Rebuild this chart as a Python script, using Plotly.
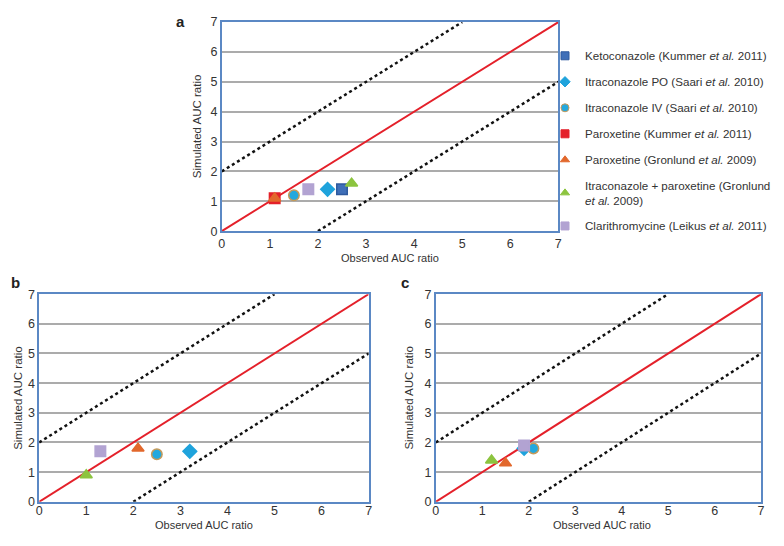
import plotly.graph_objects as go

# ---- data ----
series_names = [
    "Ketoconazole (Kummer <i>et al.</i> 2011)",
    "Itraconazole PO (Saari <i>et al.</i> 2010)",
    "Itraconazole IV (Saari <i>et al.</i> 2010)",
    "Paroxetine (Kummer <i>et al.</i> 2011)",
    "Paroxetine (Gronlund <i>et al.</i> 2009)",
    "Itraconazole + paroxetine (Gronlund<br><i>et al.</i> 2009)",
    "Clarithromycine (Leikus <i>et al.</i> 2011)",
]
series_symbols = ["square", "diamond", "circle", "square", "triangle-up", "triangle-up", "square"]
series_colors = ["#3F6FB8", "#1FA3DC", "#23A8DE", "#E4202A", "#E2682C", "#8CC43F", "#B2A3D2"]
series_lines = ["#2F5A9E", "#1FA3DC", "#C59A5A", "#E4202A", "#E2682C", "#8CC43F", "#B2A3D2"]

# panel a (observed, simulated); None = absent
obs_a = [2.5, 2.2, 1.5, 1.1, 1.1, 2.7, 1.8]
sim_a = [1.4, 1.4, 1.2, 1.1, 1.1, 1.6, 1.4]
# panel b
obs_b = [None, 3.2, 2.5, None, 2.1, 1.0, 1.3]
sim_b = [None, 1.7, 1.6, None, 1.8, 0.9, 1.7]
# panel c
obs_c = [None, 1.9, 2.1, None, 1.5, 1.2, 1.9]
sim_c = [None, 1.8, 1.8, None, 1.3, 1.4, 1.9]

unity_x = [0, 7]
unity_y = [0, 7]
upper_x = [0, 5]
upper_y = [2, 7]
lower_x = [2, 7]
lower_y = [0, 5]

tick_vals = [0, 1, 2, 3, 4, 5, 6, 7]
tick_text = ["0", "1", "2", "3", "4", "5", "6", "7"]

# page is 784x546 with the default 8px body margin around the figure
MARGIN = 8
W, H = 784 - 2 * MARGIN, 546 - 2 * MARGIN

fig = go.Figure()

panels = [("", obs_a, sim_a), ("2", obs_b, sim_b), ("3", obs_c, sim_c)]

for suf, obs, sim in panels:
    xa = "x" + suf
    ya = "y" + suf
    fig.add_trace(go.Scatter(x=upper_x, y=upper_y, mode="lines", xaxis=xa, yaxis=ya,
                             line=dict(color="#111111", width=2.5, dash="dot"),
                             showlegend=False, hoverinfo="skip"))
    fig.add_trace(go.Scatter(x=lower_x, y=lower_y, mode="lines", xaxis=xa, yaxis=ya,
                             line=dict(color="#111111", width=2.5, dash="dot"),
                             showlegend=False, hoverinfo="skip"))
    fig.add_trace(go.Scatter(x=unity_x, y=unity_y, mode="lines", xaxis=xa, yaxis=ya,
                             line=dict(color="#E4202A", width=2),
                             showlegend=False, hoverinfo="skip"))
    for i, name in enumerate(series_names):
        if obs[i] is None:
            continue
        fig.add_trace(go.Scatter(
            x=[obs[i]], y=[sim[i]], mode="markers", xaxis=xa, yaxis=ya,
            name=name, legendgroup="g%d" % i, showlegend=False,
            marker=dict(symbol=series_symbols[i], size=10.5, color=series_colors[i],
                        line=dict(color=series_lines[i], width=1.5)),
        ))

# legend entries (no data drawn, smaller symbols as in the original key)
for i, name in enumerate(series_names):
    fig.add_trace(go.Scatter(
        x=[None], y=[None], mode="markers", name=name, legendgroup="g%d" % i,
        showlegend=True,
        marker=dict(symbol=series_symbols[i], size=8, color=series_colors[i],
                    line=dict(color=series_lines[i], width=1)),
    ))


def px_x(p, lo=0, hi=W):
    return min(max(p - MARGIN, lo), hi) / W


def px_y(p, lo=0, hi=H):
    return 1 - min(max(p - MARGIN, lo), hi) / H


axis_common = dict(range=[0, 7], tickvals=tick_vals, ticktext=tick_text,
                   showline=True, mirror=True, linecolor="#5B88C4", linewidth=1.5,
                   zeroline=False, ticks="", tickfont=dict(size=12.5, color="#333333"),
                   fixedrange=True)

domains = {
    "": ((222.7, 565.5), (15.3, 230)),
    "2": ((36.7, 372.3), (294.7, 508)),
    "3": ((440.7, 778.3), (294.7, 508)),
}

layout_axes = {}
for suf, ((x0, x1), (y0, y1)) in domains.items():
    layout_axes["xaxis" + suf] = dict(axis_common, domain=[px_x(x0), px_x(x1, hi=W - 4)],
                                      anchor="y" + suf, showgrid=False,
                                      ticklabelstandoff=(0 if suf == "" else -4))
    layout_axes["yaxis" + suf] = dict(axis_common, domain=[px_y(y1), px_y(y0)],
                                      anchor="x" + suf, showgrid=True,
                                      gridcolor="#ABABAB", gridwidth=1.5)

font_family = "Liberation Sans, Arial, Helvetica, sans-serif"

annotations = []
for cx, cy in [((222.7 + 565.5) / 2, 258), ((36.7 + 372.3) / 2, 539), ((440.7 + 778.3) / 2, 539)]:
    annotations.append(dict(text="Observed AUC ratio", x=px_x(cx), y=px_y(cy, hi=H - 6), xref="paper", yref="paper",
                            showarrow=False, xanchor="center", yanchor="middle", borderpad=0,
                            font=dict(size=11, color="#333333")))
for cx, cy in [(197, (15.3 + 230) / 2), (10, (294.7 + 508) / 2), (413, (294.7 + 508) / 2)]:
    annotations.append(dict(text="Simulated AUC ratio", x=px_x(cx, lo=7), y=px_y(cy), xref="paper", yref="paper",
                            showarrow=False, xanchor="center", yanchor="middle", textangle=-90,
                            font=dict(size=11.5, color="#333333")))
for lab, cx, cy in [("a", 181, 7), ("b", 7, 283), ("c", 409, 283)]:
    annotations.append(dict(text="<b>%s</b>" % lab, x=px_x(cx, lo=5), y=px_y(cy, lo=7), xref="paper", yref="paper",
                            showarrow=False, xanchor="center", yanchor="middle",
                            font=dict(size=15, color="#222222")))

fig.update_layout(
    width=W, height=H,
    margin=dict(l=0, r=0, t=0, b=0),
    paper_bgcolor="white", plot_bgcolor="white",
    font=dict(family=font_family, size=12, color="#333333"),
    showlegend=True,
    legend=dict(x=px_x(552), y=px_y(35), xanchor="left", yanchor="top",
                bgcolor="rgba(0,0,0,0)", font=dict(size=11.6, color="#333333"),
                tracegroupgap=7, itemsizing="trace", traceorder="grouped"),
    annotations=annotations,
    **layout_axes,
)

fig.write_html("out.html")
